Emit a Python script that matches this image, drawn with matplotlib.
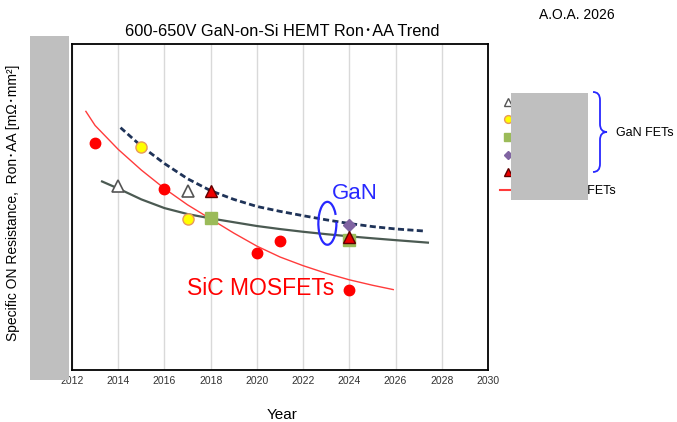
import numpy as np
import matplotlib.pyplot as plt
from matplotlib.lines import Line2D
from matplotlib.patches import Rectangle, Arc, PathPatch
from matplotlib.path import Path

plt.rcParams['font.family'] = ['Liberation Sans', 'Noto Sans CJK JP', 'DejaVu Sans']

W, H = 677, 422

# measured points (arbitrary Ron*AA units, y labels hidden in source)
sic_year = [2013, 2016, 2020, 2021, 2024]
sic_val = [20.9, 16.65, 10.8, 11.9, 7.35]

open_tri_year = [2014, 2017]
open_tri_val = [16.9, 16.5]
yellow_year = [2015, 2017]
yellow_val = [20.55, 13.85]
red_tri_year = [2018, 2024]
red_tri_val = [16.45, 12.25]
green_year = [2018, 2024]
green_val = [14.0, 11.95]
purple_year = [2024]
purple_val = [13.35]

# trend lines
gan_top_year = [2014.1, 2015, 2016, 2017, 2018, 2019, 2020, 2021, 2022, 2023, 2024, 2025, 2026, 2027.3]
gan_top_val = [22.3, 20.6, 19.0, 17.6, 16.5, 15.7, 15.05, 14.6, 14.2, 13.82, 13.48, 13.2, 12.98, 12.78]

gan_year = [2013.3, 2014, 2015, 2016, 2017, 2018, 2019, 2020, 2021, 2022, 2023, 2024, 2025, 2026, 2027.4]
gan_val = [17.35, 16.7, 15.7, 14.9, 14.35, 13.95, 13.6, 13.25, 12.97, 12.72, 12.5, 12.3, 12.12, 11.95, 11.72]

sic_fit_year = [2012.6, 2013, 2014, 2015, 2016, 2017, 2018, 2019, 2020, 2021, 2022, 2023, 2024, 2025, 2025.9]
sic_fit_val = [23.8, 22.5, 20.3, 18.4, 16.7, 15.2, 13.9, 12.6, 11.4, 10.4, 9.6, 8.9, 8.3, 7.8, 7.4]

xticks = list(range(2012, 2031, 2))


def fx(x):
    return x / W


def fy(y):
    return 1 - y / H


fig = plt.figure(figsize=(W / 100, H / 100), dpi=100)
ax = fig.add_axes([fx(72), fy(370), (488 - 72) / W, (370 - 44) / H])

ax.set_xlim(2012, 2030)
ax.set_ylim(0, 30)
ax.set_xticks(xticks)
ax.set_yticks([])
ax.tick_params(axis='x', length=0, labelsize=7.5, labelcolor='#333333', pad=4)
ax.grid(axis='x', color='#d9d9d9', lw=1)
ax.set_axisbelow(True)
for s in ax.spines.values():
    s.set_linewidth(1.3)

ax.plot(sic_fit_year, sic_fit_val, color='#ff3b3b', lw=1.0, zorder=2)
ax.plot(gan_year, gan_val, color='#4b5a52', lw=1.6, zorder=2)
ax.plot(gan_top_year, gan_top_val, color='#1f3358', lw=2.0, dashes=(2.2, 1.2), zorder=2)

ms = dict(ls='none', zorder=3)
ax.plot(sic_year, sic_val, marker='o', ms=7.5, mfc='#ff0000', mec='#ff0000', **ms)
ax.plot(open_tri_year, open_tri_val, marker='^', ms=8, mfc='white', mec='#555555', mew=1.2, **ms)
ax.plot(yellow_year, yellow_val, marker='o', ms=8, mfc='#ffff00', mec='#e89a5a', mew=1.0, **ms)
ax.plot(green_year, green_val, marker='s', ms=8, mfc='#9bbb59', mec='#9bbb59', **ms)
ax.plot(purple_year, purple_val, marker='D', ms=6.5, mfc='#8064a2', mec='#8064a2', **ms)
ax.plot(red_tri_year, red_tri_val, marker='^', ms=8, mfc='#ee0000', mec='#600000', mew=1.0, **ms)

# blue loop round the 2024 GaN points
ax.add_patch(Arc((2023.05, 13.5), 0.78, 3.95, theta1=65, theta2=380,
                 color='#2828ff', lw=1.6, zorder=4))
ax.text(2024.25, 15.75, 'GaN', color='#2828ff', fontsize=16, ha='center', va='baseline')
ax.text(2020.16, 6.9, 'SiC MOSFETs', color='#ff0000', fontsize=16.5, ha='center', va='baseline')

fig.text(fx(282), fy(36), '600-650V GaN-on-Si HEMT Ron･AA Trend', fontsize=11.8,
         ha='center', va='baseline')
fig.text(fx(577), fy(19), 'A.O.A. 2026', fontsize=10, ha='center', va='baseline')
fig.text(fx(282), fy(419), 'Year', fontsize=11, ha='center', va='baseline')
fig.text(fx(13), fy(203), 'Specific ON Resistance,  Ron･AA [mΩ･mm²]', fontsize=10,
         rotation=90, ha='center', va='center')

# legend (mostly hidden behind the grey box, as in the source)
handles = [
    Line2D([], [], ls='none', marker='^', ms=8, mfc='white', mec='#555555'),
    Line2D([], [], ls='none', marker='o', ms=8, mfc='#ffff00', mec='#e89a5a'),
    Line2D([], [], ls='none', marker='s', ms=8, mfc='#9bbb59', mec='#9bbb59'),
    Line2D([], [], ls='none', marker='D', ms=6.5, mfc='#8064a2', mec='#8064a2'),
    Line2D([], [], ls='none', marker='^', ms=8, mfc='#ee0000', mec='#600000'),
    Line2D([], [], color='#ff3b3b', lw=1.5),
]
labels = ['GaN A', 'GaN B', 'GaN C', 'GaN D', 'GaN E', 'SiC MOSFETs']
leg = fig.legend(handles, labels, loc='upper left', bbox_to_anchor=(fx(500), fy(97)),
                 frameon=False, fontsize=9, handlelength=1.2, handletextpad=1.6,
                 borderpad=0, borderaxespad=0, labelspacing=0.45, markerscale=0.7)
leg.set_zorder(5)

# curly brace for the GaN group
brace = Path([(593, 92), (600, 92), (600, 100), (600, 124), (600, 132), (607, 132),
              (600, 132), (600, 140), (600, 164), (600, 172), (593, 172)],
             [Path.MOVETO, Path.CURVE3, Path.CURVE3, Path.LINETO, Path.CURVE3, Path.CURVE3,
              Path.CURVE3, Path.CURVE3, Path.LINETO, Path.CURVE3, Path.CURVE3])
brace = Path([(fx(x), fy(y)) for x, y in brace.vertices], brace.codes)
fig.patches.append(PathPatch(brace, transform=fig.transFigure, fill=False,
                             ec='#2828ff', lw=1.3, zorder=6))
fig.text(fx(616), fy(136.5), 'GaN FETs', fontsize=9, ha='left', va='baseline')

# grey masks
for x0, y0, x1, y1 in [(30, 36, 68.5, 380), (510.5, 92.5, 588, 199.5)]:
    fig.patches.append(Rectangle((fx(x0), fy(y1)), (x1 - x0) / W, (y1 - y0) / H,
                                 transform=fig.transFigure, fc='#bfbfbf', ec='none', zorder=10))

fig.savefig('out.png', dpi=100)
